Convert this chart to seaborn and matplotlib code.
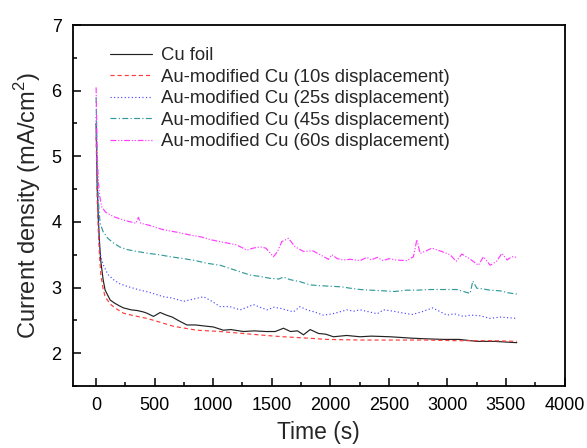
import matplotlib
matplotlib.use("Agg")
import matplotlib.pyplot as plt
import seaborn as sns
import numpy as np
from matplotlib.ticker import MultipleLocator

# ---- data ----
t_cu = [0, 5, 10, 20, 30, 40, 60, 77, 100, 120, 160, 200, 233, 300, 350, 400, 433, 490, 547, 600,
        650, 700, 775, 850, 945, 1000, 1087, 1150, 1258, 1350, 1450, 1530, 1600, 1660, 1720, 1771,
        1828, 1900, 1960, 2027, 2140, 2255, 2350, 2511, 2600, 2682, 2800, 2966, 3100, 3251, 3400, 3593]
v_cu = [5.5, 5.0, 4.5, 4.0, 3.65, 3.4, 3.12, 2.96, 2.88, 2.81, 2.76, 2.72, 2.69, 2.66, 2.65, 2.63,
        2.61, 2.56, 2.62, 2.58, 2.55, 2.50, 2.43, 2.43, 2.41, 2.40, 2.35, 2.36, 2.33, 2.34, 2.33,
        2.33, 2.38, 2.33, 2.34, 2.28, 2.36, 2.30, 2.29, 2.25, 2.27, 2.25, 2.26, 2.25, 2.24, 2.23,
        2.22, 2.21, 2.21, 2.18, 2.18, 2.16]

t_10 = [0, 5, 10, 20, 30, 40, 60, 77, 100, 120, 160, 233, 300, 433, 550, 660, 760, 860, 1059,
        1258, 1450, 1600, 1800, 1970, 2255, 2500, 2800, 3100, 3400, 3593]
v_10 = [5.3, 4.8, 4.3, 3.8, 3.45, 3.2, 2.98, 2.86, 2.8, 2.75, 2.69, 2.61, 2.58, 2.53, 2.47, 2.41,
        2.38, 2.35, 2.33, 2.30, 2.27, 2.25, 2.23, 2.21, 2.20, 2.20, 2.20, 2.19, 2.19, 2.18]

t_25 = [0, 5, 10, 20, 34, 60, 100, 148, 200, 260, 376, 450, 575, 650, 746, 820, 917, 980, 1059,
        1140, 1230, 1290, 1343, 1400, 1460, 1520, 1580, 1640, 1685, 1742, 1800, 1860, 1941, 2020,
        2080, 2141, 2200, 2255, 2330, 2400, 2454, 2540, 2624, 2700, 2780, 2875, 2995, 3060, 3137,
        3200, 3280, 3365, 3450, 3520, 3593]
v_25 = [5.6, 5.0, 4.5, 4.0, 3.52, 3.35, 3.2, 3.12, 3.06, 3.02, 2.96, 2.93, 2.86, 2.84, 2.79, 2.82,
        2.86, 2.80, 2.71, 2.71, 2.66, 2.70, 2.74, 2.70, 2.66, 2.70, 2.68, 2.65, 2.63, 2.71, 2.66,
        2.63, 2.58, 2.60, 2.63, 2.66, 2.64, 2.66, 2.63, 2.60, 2.66, 2.64, 2.61, 2.59, 2.63, 2.69,
        2.58, 2.60, 2.56, 2.58, 2.57, 2.53, 2.55, 2.54, 2.53]

t_45 = [0, 5, 10, 20, 34, 60, 100, 148, 200, 260, 347, 450, 540, 632, 750, 850, 945, 1059, 1144,
        1230, 1315, 1400, 1486, 1560, 1600, 1657, 1740, 1828, 1900, 1999, 2100, 2169, 2255, 2350,
        2454, 2550, 2650, 2739, 2850, 2966, 3080, 3194, 3217, 3251, 3300, 3365, 3450, 3520, 3593]
v_45 = [5.9, 5.3, 4.8, 4.3, 3.98, 3.85, 3.75, 3.68, 3.62, 3.58, 3.55, 3.52, 3.50, 3.47, 3.44, 3.41,
        3.37, 3.34, 3.29, 3.24, 3.19, 3.17, 3.14, 3.13, 3.16, 3.12, 3.09, 3.04, 3.03, 3.02, 3.01,
        2.99, 2.97, 2.96, 2.95, 2.94, 2.96, 2.96, 2.97, 2.97, 2.97, 2.91, 3.10, 2.99, 2.98, 2.96,
        2.95, 2.92, 2.90]

t_60 = [0, 5, 10, 20, 30, 48, 80, 148, 250, 340, 361, 380, 450, 575, 700, 803, 900, 973, 1059,
        1115, 1200, 1287, 1340, 1400, 1450, 1514, 1550, 1586, 1642, 1700, 1771, 1850, 1913, 1984,
        2013, 2060, 2112, 2170, 2255, 2312, 2350, 2400, 2450, 2500, 2560, 2653, 2710, 2739, 2767,
        2820, 2867, 2950, 3023, 3075, 3123, 3180, 3265, 3308, 3365, 3420, 3465, 3510, 3550, 3593]
v_60 = [6.05, 5.5, 5.0, 4.6, 4.4, 4.23, 4.15, 4.08, 4.02, 3.98, 4.07, 3.98, 3.95, 3.88, 3.84, 3.80,
        3.77, 3.73, 3.70, 3.68, 3.65, 3.57, 3.60, 3.62, 3.60, 3.47, 3.55, 3.70, 3.75, 3.62, 3.55,
        3.56, 3.50, 3.43, 3.50, 3.44, 3.42, 3.43, 3.41, 3.46, 3.42, 3.46, 3.41, 3.44, 3.42, 3.41,
        3.47, 3.73, 3.52, 3.56, 3.60, 3.55, 3.50, 3.40, 3.51, 3.45, 3.34, 3.47, 3.34, 3.40, 3.52,
        3.42, 3.47, 3.46]

labels = ["Cu foil",
          "Au-modified Cu (10s displacement)",
          "Au-modified Cu (25s displacement)",
          "Au-modified Cu (45s displacement)",
          "Au-modified Cu (60s displacement)"]
xticks = [0, 500, 1000, 1500, 2000, 2500, 3000, 3500, 4000]
yticks = [2, 3, 4, 5, 6, 7]

# ---- style ----
sns.set_style("ticks")
plt.rcParams["font.family"] = ["Liberation Sans", "DejaVu Sans"]
plt.rcParams["mathtext.fontset"] = "custom"
plt.rcParams["mathtext.rm"] = "Liberation Sans"

fig = plt.figure(figsize=(5.87, 4.48), dpi=100)
ax = fig.add_axes([72.7 / 587, 1 - 386 / 448, (564.5 - 72.7) / 587, (386 - 25) / 448])

series = [(t_cu, v_cu), (t_10, v_10), (t_25, v_25), (t_45, v_45), (t_60, v_60)]
colors = ["#222222", "#FF3B3B", "#4A4AFF", "#329A9A", "#FF3CFF"]
styles = ["-", (0, (3.5, 2.5)), (0, (1, 2)), (0, (5, 2, 1, 2)), (0, (5, 1.5, 1, 1.5, 1, 1.5))]

for (tt, vv), c, ls, lab in zip(series, colors, styles, labels):
    sns.lineplot(x=tt, y=vv, ax=ax, color=c, linestyle=ls, linewidth=0.85,
                 label=lab, estimator=None, sort=False)

ax.set_xlim(-200, 4000)
ax.set_ylim(1.5, 7)
ax.set_xticks(xticks)
ax.set_yticks(yticks)
ax.xaxis.set_minor_locator(MultipleLocator(250))
ax.yaxis.set_minor_locator(MultipleLocator(0.5))
ax.tick_params(which="both", direction="in", width=1.1, labelsize=13, pad=8,
               top=False, right=False, colors="black")
ax.tick_params(which="major", length=5.5)
ax.tick_params(which="minor", length=3)
for sp in ax.spines.values():
    sp.set_visible(True)
    sp.set_linewidth(1.3)
    sp.set_color("black")

ax.set_xlabel("Time (s)", fontsize=16.5, labelpad=5)
ax.set_ylabel("Current density (mA/cm$^2$)", fontsize=17, labelpad=6)

ax.legend(loc="upper left", bbox_to_anchor=(110 / 587, 1 - 47 / 448),
          bbox_transform=fig.transFigure, frameon=False, fontsize=13.3,
          handlelength=2.3, handletextpad=0.45, labelspacing=0.25,
          borderpad=0, borderaxespad=0)

fig.savefig("out.png", dpi=100)
